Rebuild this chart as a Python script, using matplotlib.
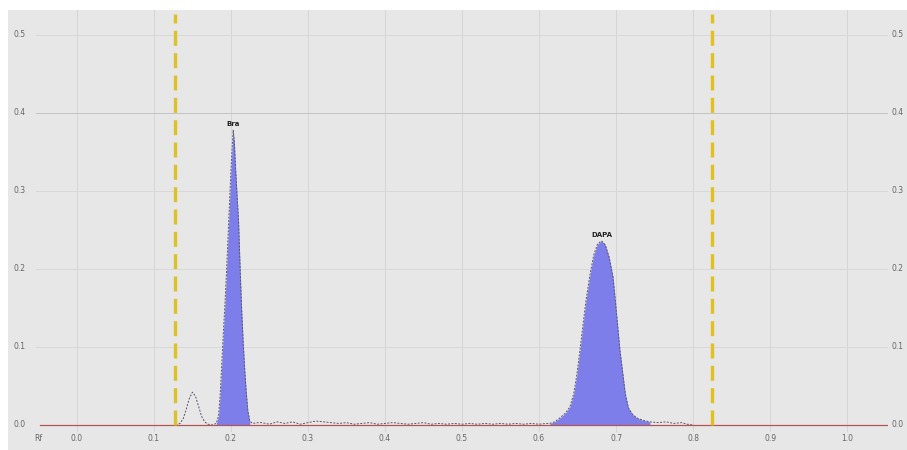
import matplotlib
matplotlib.use('Agg')
import matplotlib.pyplot as plt
from matplotlib.patches import Rectangle
import numpy as np


# densitogram trace (Rf, absorbance)
rf = [0.128, 0.134, 0.138, 0.142, 0.146, 0.150, 0.154, 0.158, 0.162, 0.166,
      0.170, 0.176, 0.181, 0.184, 0.186, 0.188, 0.190, 0.192, 0.194, 0.196,
      0.198, 0.200, 0.202, 0.203, 0.2045, 0.206, 0.208, 0.210, 0.212, 0.214,
      0.216, 0.218, 0.220, 0.222, 0.2245, 0.228, 0.235,
      0.24, 0.25, 0.26, 0.27, 0.28, 0.29, 0.30, 0.31, 0.32, 0.33, 0.34, 0.35,
      0.36, 0.37, 0.38, 0.39, 0.40, 0.41, 0.42, 0.43, 0.44, 0.45, 0.46, 0.47,
      0.48, 0.49, 0.50, 0.51, 0.52, 0.53, 0.54, 0.55, 0.56, 0.57, 0.58, 0.59,
      0.60, 0.61,
      0.614, 0.620, 0.627, 0.634, 0.640, 0.645, 0.649, 0.653, 0.657, 0.661,
      0.666, 0.671, 0.676, 0.681, 0.686, 0.691, 0.696, 0.699, 0.702, 0.705,
      0.709, 0.712, 0.716, 0.721, 0.727, 0.735, 0.744, 0.755, 0.765, 0.775,
      0.785, 0.792, 0.800]
absorb = [0.0, 0.002, 0.008, 0.020, 0.034, 0.042, 0.037, 0.024, 0.011, 0.004,
          0.001, 0.000, 0.002, 0.012, 0.038, 0.075, 0.115, 0.150, 0.190, 0.235,
          0.280, 0.325, 0.362, 0.378, 0.362, 0.330, 0.295, 0.260, 0.200, 0.147,
          0.105, 0.070, 0.041, 0.018, 0.005, 0.002, 0.003,
          0.003, 0.001, 0.004, 0.002, 0.004, 0.001, 0.003, 0.005, 0.004, 0.003,
          0.002, 0.003, 0.001, 0.002, 0.003, 0.001, 0.002, 0.003, 0.002, 0.001,
          0.002, 0.003, 0.001, 0.002, 0.001, 0.002, 0.001, 0.002, 0.001, 0.002,
          0.001, 0.002, 0.001, 0.002, 0.001, 0.002, 0.001, 0.002,
          0.002, 0.004, 0.009, 0.015, 0.023, 0.040, 0.064, 0.095, 0.128, 0.160,
          0.192, 0.218, 0.232, 0.236, 0.231, 0.215, 0.190, 0.160, 0.128, 0.096,
          0.064, 0.040, 0.022, 0.014, 0.009, 0.006, 0.004, 0.003, 0.004, 0.002,
          0.003, 0.001, 0.0]

peak_names = ['Bra', 'DAPA']
peak_rf = [0.203, 0.681]
peak_height = [0.378, 0.236]
peak_windows = [(0.181, 0.2245), (0.614, 0.744)]

front_lines = [0.128, 0.825]

xticks = [0.0, 0.1, 0.2, 0.3, 0.4, 0.5, 0.6, 0.7, 0.8, 0.9, 1.0]
yticks = [0.0, 0.1, 0.2, 0.3, 0.4, 0.5]

W, H = 907, 450
fig = plt.figure(figsize=(W / 100, H / 100), dpi=100, facecolor='white')
fig.patches.append(Rectangle((8 / W, 0), 899 / W, 440 / H, transform=fig.transFigure,
                             facecolor='#e7e7e7', edgecolor='none', zorder=-10))

ax = fig.add_axes([36 / W, 18 / H, 852 / W, 422 / H])
ax.set_facecolor('none')
for s in ax.spines.values():
    s.set_visible(False)

ax.set_xlim(-0.053, 1.053)
ax.set_ylim(-0.009, 0.532)

# grid
for x in xticks:
    ax.axvline(x, color='#d6d6d6', lw=0.7, zorder=0)
for y in yticks[1:]:
    ax.axhline(y, color='#c2c2c2' if y == 0.4 else '#d8d8d8', lw=0.7, zorder=0)

rf_arr = np.array(rf)
ab_arr = np.array(absorb)
for lo, hi in peak_windows:
    m = (rf_arr >= lo) & (rf_arr <= hi)
    ax.fill_between(rf_arr[m], 0, ab_arr[m], color='#7e7eea', lw=0, zorder=2)

ax.plot(rf, absorb, color='#55556a', lw=0.7, dashes=(2, 1.5), zorder=3)

ax.plot([-0.048, 1.052], [0, 0], color='#b45555', lw=0.9, zorder=4)

for x in front_lines:
    ax.plot([x, x], [0, 0.527], color='#dfc222', lw=2.4, dashes=(4.5, 2.2), zorder=5)

for name, x, h in zip(peak_names, peak_rf, peak_height):
    ax.text(x, h + 0.004, name, ha='center', va='bottom', fontsize=5,
            fontweight='bold', color='#222222', fontfamily='Liberation Sans Narrow')

ax.set_xticks([])
ax.set_yticks([])
for x in xticks:
    ax.text(x, -0.017, f'{x:.1f}', ha='center', va='center', fontsize=5.5,
            color='#666666', fontfamily='Liberation Sans Narrow', clip_on=False)
ax.text(-0.050, -0.017, 'Rf', ha='center', va='center', fontsize=5.5,
        color='#666666', fontfamily='Liberation Sans Narrow', clip_on=False)
for y in yticks:
    ax.text(-0.074, y, f'{y:.1f}', ha='center', va='center', fontsize=5.5,
            color='#666666', fontfamily='Liberation Sans Narrow', clip_on=False)
    ax.text(1.065, y, f'{y:.1f}', ha='center', va='center', fontsize=5.5,
            color='#666666', fontfamily='Liberation Sans Narrow', clip_on=False)

fig.savefig('out.png', dpi=100, facecolor=fig.get_facecolor())
